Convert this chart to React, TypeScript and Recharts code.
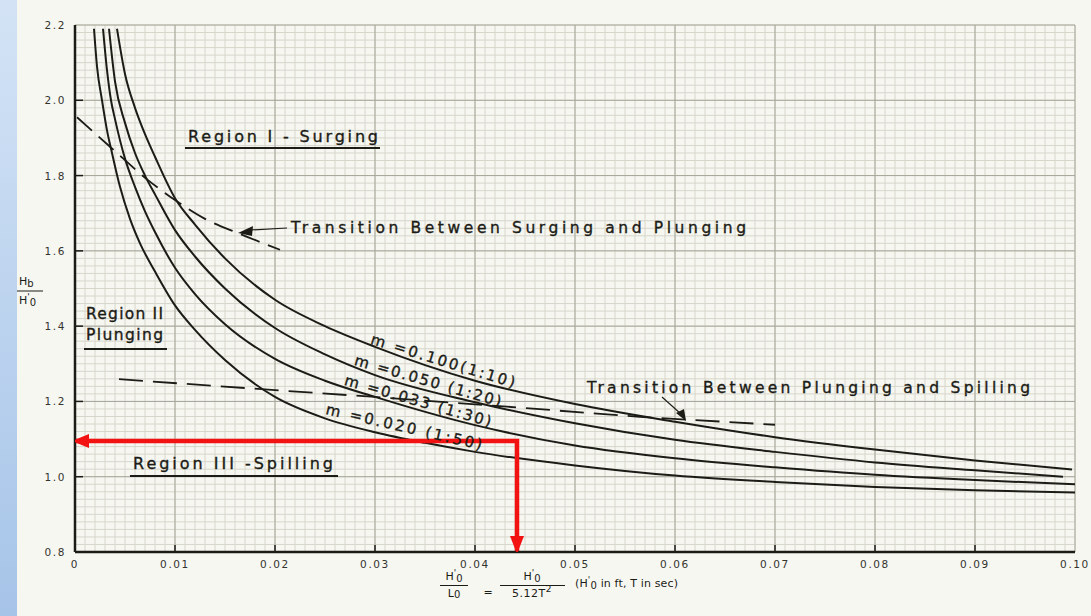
import React from "react";
import {
  LineChart,
  Line,
  XAxis,
  YAxis,
  CartesianGrid,
} from "recharts";

const INK = "#1c1c16";
const PAPER = "#f7f7f2";
const RED = "#f21212";
const FONT = "'DejaVu Sans', sans-serif";

// tick values and their printed labels
const X_TICKS = [0, 0.01, 0.02, 0.03, 0.04, 0.05, 0.06, 0.07, 0.08, 0.09, 0.1];
const X_TICK_LABELS = ["0", "0.01", "0.02", "0.03", "0.04", "0.05", "0.06", "0.07", "0.08", "0.09", "0.10"];
const Y_TICKS = [0.8, 1.0, 1.2, 1.4, 1.6, 1.8, 2.0, 2.2];
const Y_TICK_LABELS = ["0.8", "1.0", "1.2", "1.4", "1.6", "1.8", "2.0", "2.2"];

// graph paper
const MINOR_X = Array.from({ length: 101 }, (_, i) => i / 1000);
const MINOR_Y = Array.from({ length: 71 }, (_, i) => 0.8 + i * 0.02);

// m = 0.100 (1:10)
const M100_X = [0.0042, 0.005, 0.006, 0.007, 0.008, 0.01, 0.012, 0.015, 0.02, 0.025, 0.03, 0.04, 0.05, 0.06, 0.07, 0.08, 0.09, 0.0997];
const M100_Y = [2.19, 2.07, 1.98, 1.91, 1.85, 1.74, 1.67, 1.58, 1.47, 1.4, 1.345, 1.255, 1.193, 1.146, 1.105, 1.072, 1.043, 1.019];

// m = 0.050 (1:20)
const M050_X = [0.0034, 0.004, 0.005, 0.006, 0.007, 0.008, 0.01, 0.012, 0.015, 0.02, 0.025, 0.03, 0.04, 0.05, 0.06, 0.07, 0.08, 0.09, 0.0988];
const M050_Y = [2.19, 2.05, 1.94, 1.86, 1.8, 1.75, 1.655, 1.585, 1.5, 1.395, 1.325, 1.27, 1.198, 1.142, 1.098, 1.066, 1.038, 1.017, 1.0];

// m = 0.033 (1:30)
const M033_X = [0.0028, 0.0032, 0.0036, 0.004, 0.005, 0.006, 0.007, 0.008, 0.01, 0.012, 0.015, 0.02, 0.025, 0.03, 0.04, 0.05, 0.06, 0.07, 0.08, 0.09, 0.1];
const M033_Y = [2.19, 2.08, 2.0, 1.95, 1.845, 1.77, 1.705, 1.65, 1.555, 1.485, 1.405, 1.313, 1.255, 1.212, 1.137, 1.083, 1.049, 1.025, 1.005, 0.991, 0.98];

// m = 0.020 (1:50)
const M020_X = [0.0019, 0.0022, 0.0027, 0.0032, 0.0037, 0.0045, 0.0055, 0.0065, 0.008, 0.01, 0.012, 0.015, 0.02, 0.025, 0.03, 0.035, 0.04, 0.05, 0.06, 0.07, 0.08, 0.09, 0.1];
const M020_Y = [2.19, 2.09, 2.0, 1.92, 1.86, 1.77, 1.685, 1.62, 1.545, 1.455, 1.39, 1.31, 1.212, 1.155, 1.118, 1.09, 1.066, 1.03, 1.003, 0.986, 0.973, 0.964, 0.958];

// transition lines (dashed)
const SURG_X = [0.0002, 0.0037, 0.0073, 0.01, 0.013, 0.0165, 0.0205];
const SURG_Y = [1.955, 1.872, 1.788, 1.735, 1.685, 1.645, 1.603];
const SPILL_X = [0.0044, 0.02, 0.03, 0.0432, 0.0565, 0.07];
const SPILL_Y = [1.259, 1.23, 1.212, 1.186, 1.159, 1.138];

// red reading arrows
const RED_X = [0.0442, 0.0442, 0];
const RED_Y = [0.8, 1.095, 1.095];

const pts = (xs: number[], ys: number[]) => xs.map((x, i) => ({ x, y: ys[i] }));

function XTick(props: any) {
  const { x, y, payload } = props;
  const i = X_TICKS.indexOf(payload.value);
  return (
    <g>
      {i > 0 && i < 10 && <line x1={x} x2={x} y1={y} y2={y - 7} stroke={INK} strokeWidth={1.5} />}
      <text x={x} y={y + 16} textAnchor="middle" fontSize={10.5} letterSpacing={1.6} fill="#34342e" fontFamily={FONT}>
        {X_TICK_LABELS[i]}
      </text>
    </g>
  );
}

function YTick(props: any) {
  const { x, y, payload } = props;
  const i = Y_TICKS.findIndex((v) => Math.abs(v - payload.value) < 1e-6);
  return (
    <g>
      {i > 0 && i < 7 && <line x1={x} x2={x + 8} y1={y} y2={y} stroke={INK} strokeWidth={1.5} />}
      <text x={x - 9} y={y + 4} textAnchor="end" fontSize={10.5} letterSpacing={1.6} fill="#34342e" fontFamily={FONT}>
        {Y_TICK_LABELS[i]}
      </text>
    </g>
  );
}

function TopTick(props: any) {
  const { x, y, payload } = props;
  const i = X_TICKS.indexOf(payload.value);
  if (i <= 0 || i >= 10) return <g />;
  return <line x1={x} x2={x} y1={y} y2={y + 6} stroke={INK} strokeWidth={1.3} />;
}

function RightTick(props: any) {
  const { x, y, payload } = props;
  const i = Y_TICKS.findIndex((v) => Math.abs(v - payload.value) < 1e-6);
  if (i <= 0 || i >= 7) return <g />;
  return <line x1={x} x2={x - 6} y1={y} y2={y} stroke={INK} strokeWidth={1.3} />;
}

function RedArrow(props: any) {
  const { cx, cy, index } = props;
  if (index === 0) {
    return <polygon key="ra0" points={`${cx - 7},${cy - 16} ${cx + 7},${cy - 16} ${cx},${cy + 2}`} fill={RED} />;
  }
  if (index === RED_X.length - 1) {
    return <polygon key="ra2" points={`${cx - 3},${cy} ${cx + 14},${cy - 7} ${cx + 14},${cy + 7}`} fill={RED} />;
  }
  return <g key={"ra" + index} />;
}

const lineProps = {
  dataKey: "y",
  type: "monotone" as const,
  stroke: INK,
  strokeWidth: 2,
  dot: false,
  isAnimationActive: false,
};

function Annotations() {
  const t = { fontFamily: FONT, fill: INK };
  const b = { ...t, stroke: INK, strokeWidth: 0.35 };
  return (
    <svg width={1091} height={616} style={{ position: "absolute", left: 0, top: 0, pointerEvents: "none" }}>
      {/* y axis label */}
      <text x={19} y={285} fontSize={11} {...t}>
        H<tspan fontSize={10} dy={2}>b</tspan>
      </text>
      <line x1={17} x2={43} y1={291} y2={291} stroke={INK} strokeWidth={1} />
      <text x={19} y={304} fontSize={11} {...t}>
        H<tspan fontSize={9} dy={-4}>'</tspan>
        <tspan fontSize={10} dy={6}>0</tspan>
      </text>

      {/* region labels */}
      <text x={188} y={142} fontSize={16} textLength={190} lengthAdjust="spacing" {...b}>Region I - Surging</text>
      <line x1={185} x2={380} y1={148} y2={148} stroke={INK} strokeWidth={1.8} />
      <text x={86} y={319} fontSize={15.5} textLength={77} lengthAdjust="spacing" {...b}>Region II</text>
      <text x={86} y={340} fontSize={15.5} textLength={77} lengthAdjust="spacing" {...b}>Plunging</text>
      <line x1={84} x2={167} y1={349} y2={349} stroke={INK} strokeWidth={1.8} />
      <text x={133} y={469} fontSize={16} textLength={200} lengthAdjust="spacing" {...b}>Region III -Spilling</text>
      <line x1={130} x2={338} y1={476} y2={476} stroke={INK} strokeWidth={1.8} />

      {/* transitions */}
      <text x={291} y={233} fontSize={15.5} textLength={455} lengthAdjust="spacing" {...b}>Transition Between Surging and Plunging</text>
      <line x1={287} x2={250} y1={228} y2={230} stroke={INK} strokeWidth={1.2} />
      <polygon points="238,233 253,226 252,236" fill={INK} />
      <text x={587} y={393} fontSize={15.5} textLength={443} lengthAdjust="spacing" {...b}>Transition Between Plunging and Spilling</text>
      <line x1={662} x2={681} y1={397} y2={414} stroke={INK} strokeWidth={1.1} />
      <polygon points="686,421 676,413 684,409" fill={INK} />

      {/* slope labels along curves */}
      <text transform="translate(443,361) rotate(17)" textAnchor="middle" dominantBaseline="central" fontSize={15} textLength={150} lengthAdjust="spacing" {...b}>m =0.100(1:10)</text>
      <text transform="translate(428,381) rotate(16)" textAnchor="middle" dominantBaseline="central" fontSize={15} textLength={152} lengthAdjust="spacing" {...b}>m =0.050 (1:20)</text>
      <text transform="translate(418,401) rotate(16)" textAnchor="middle" dominantBaseline="central" fontSize={15} textLength={152} lengthAdjust="spacing" {...b}>m =0.033 (1:30)</text>
      <text transform="translate(404,427) rotate(13)" textAnchor="middle" dominantBaseline="central" fontSize={15} textLength={160} lengthAdjust="spacing" {...b}>m =0.020 (1:50)</text>

      {/* x axis label */}
      <text x={454} y={580} textAnchor="middle" fontSize={11} {...t}>
        H<tspan fontSize={9} dy={-4}>'</tspan><tspan fontSize={10} dy={6}>0</tspan>
      </text>
      <line x1={440} x2={468} y1={585.5} y2={585.5} stroke={INK} strokeWidth={1} />
      <text x={454} y={597} textAnchor="middle" fontSize={11} {...t}>
        L<tspan fontSize={10} dy={1}>0</tspan>
      </text>
      <text x={488} y={596} textAnchor="middle" fontSize={11} {...t}>=</text>
      <text x={532} y={580} textAnchor="middle" fontSize={11} {...t}>
        H<tspan fontSize={9} dy={-4}>'</tspan><tspan fontSize={10} dy={6}>0</tspan>
      </text>
      <line x1={500} x2={565} y1={585.5} y2={585.5} stroke={INK} strokeWidth={1} />
      <text x={532} y={597} textAnchor="middle" fontSize={11} letterSpacing={0.5} {...t}>
        5.12T<tspan fontSize={9} dy={-5}>2</tspan>
      </text>
      <text x={575} y={587} fontSize={11} textLength={103} lengthAdjust="spacing" {...t}>
        (H<tspan fontSize={9} dy={-4}>'</tspan><tspan fontSize={10} dy={6}>0</tspan><tspan dy={-2}> in ft, T in sec)</tspan>
      </text>
    </svg>
  );
}

export default function App() {
  return (
    <div style={{ position: "absolute", left: 0, top: 0, width: 1091, height: 616, background: PAPER, overflow: "hidden" }}>
      <div
        style={{
          position: "absolute",
          left: 0,
          top: 0,
          width: 17,
          height: 616,
          background: "linear-gradient(to bottom, #d3e3f5, #a6c4e8)",
        }}
      />
      <LineChart width={1091} height={616} margin={{ top: 25, right: 16, bottom: 34, left: 15 }}>
        <CartesianGrid verticalValues={MINOR_X} horizontalValues={MINOR_Y} stroke="#d6d6cb" strokeWidth={1} />
        <CartesianGrid verticalValues={X_TICKS} horizontalValues={Y_TICKS} stroke="#a6a69a" strokeWidth={1} />
        <XAxis
          dataKey="x"
          type="number"
          domain={[0, 0.1]}
          ticks={X_TICKS}
          allowDataOverflow
          height={30}
          tickSize={0}
          tickMargin={0}
          tickLine={false}
          tick={<XTick />}
          axisLine={{ stroke: INK, strokeWidth: 2.5 }}
          interval={0}
        />
        <XAxis
          xAxisId="top"
          orientation="top"
          dataKey="x"
          type="number"
          domain={[0, 0.1]}
          ticks={X_TICKS}
          height={0}
          tickSize={0}
          tickMargin={0}
          tickLine={false}
          tick={<TopTick />}
          axisLine={{ stroke: INK, strokeWidth: 1.5 }}
          interval={0}
        />
        <YAxis
          type="number"
          domain={[0.8, 2.2]}
          ticks={Y_TICKS}
          allowDataOverflow
          width={60}
          tickSize={0}
          tickMargin={0}
          tickLine={false}
          tick={<YTick />}
          axisLine={{ stroke: INK, strokeWidth: 2.5 }}
          interval={0}
        />
        <YAxis
          yAxisId="right"
          orientation="right"
          type="number"
          domain={[0.8, 2.2]}
          ticks={Y_TICKS}
          width={0}
          tickSize={0}
          tickMargin={0}
          tickLine={false}
          tick={<RightTick />}
          axisLine={{ stroke: INK, strokeWidth: 2 }}
          interval={0}
        />
        <Line data={pts(M100_X, M100_Y)} {...lineProps} />
        <Line data={pts(M050_X, M050_Y)} {...lineProps} />
        <Line data={pts(M033_X, M033_Y)} {...lineProps} />
        <Line data={pts(M020_X, M020_Y)} {...lineProps} />
        <Line data={pts(SURG_X, SURG_Y)} {...lineProps} strokeWidth={1.8} strokeDasharray="20 9" />
        <Line data={pts(SPILL_X, SPILL_Y)} {...lineProps} type="linear" strokeWidth={1.8} strokeDasharray="24 10" />
        <Line
          data={pts(RED_X, RED_Y)}
          dataKey="y"
          type="linear"
          stroke={RED}
          strokeWidth={4.5}
          dot={<RedArrow />}
          isAnimationActive={false}
        />
      </LineChart>
      <Annotations />
    </div>
  );
}
